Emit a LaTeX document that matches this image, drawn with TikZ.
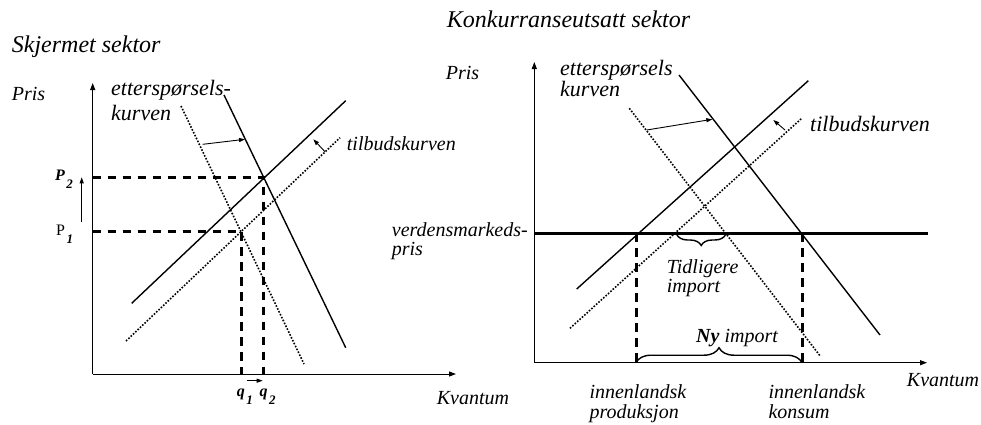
\documentclass[tikz,border=0pt]{standalone}
\usepackage{fontspec}
\setmainfont{Liberation Serif}[BoldFont={Liberation Serif Bold}, ItalicFont={Liberation Serif Italic}, BoldItalicFont={Liberation Serif Bold Italic}]
\usetikzlibrary{arrows.meta,decorations.pathreplacing}
\tikzset{
  lbl/.style={font=\fontsize{20}{20}\selectfont\itshape, inner sep=0pt, anchor=base west, align=left},
  biglbl/.style={lbl, font=\fontsize{22}{21}\selectfont\itshape},
  ttl/.style={lbl, font=\fontsize{24}{26}\selectfont\itshape},
  sym/.style={inner sep=0pt, anchor=base west, font=\fontsize{16}{16}\selectfont},
  axis/.style={line width=1pt, -{Triangle[length=7pt,width=5pt]}},
  curve/.style={line width=1.4pt},
  dotcurve/.style={line width=1.6pt, dash pattern=on 1.6pt off 1.6pt},
  dashln/.style={line width=3pt, dash pattern=on 8.5pt off 6.5pt},
  shiftarr/.style={line width=0.9pt, -{Triangle[length=6pt,width=4pt]}},
  brc/.style={line width=1.4pt, decorate, decoration={brace, amplitude=#1}},
}
\newcommand{\sbx}[1]{\kern1.5pt\raisebox{-8pt}{\fontsize{13}{13}\selectfont\bfseries\itshape #1}}
\begin{document}
\begin{tikzpicture}[x=1pt,y=-1pt]
  \useasboundingbox (0,0) rectangle (981,424);
  % Skjermet sektor
  \coordinate (oL) at (92.7,374);
  \coordinate (yL) at (92.7,83);
  \coordinate (xL) at (456,374);
  \coordinate (eL1) at (241.7,231);
  \coordinate (eL2) at (263.3,177.3);
  \draw[axis] (oL) -- (yL);
  \draw[axis] (oL) -- (xL);
  \draw[dotcurve] (181,106) -- (304,364);
  \draw[curve] (224,95) -- (345.7,347.7);
  \draw[dotcurve] (126,341) -- (340,137.7);
  \draw[curve] (131.7,303.3) -- (345.7,100.7);
  \foreach \e in {eL1,eL2}{%
    \draw[dashln] (\e -| oL) -- (\e) -- (\e |- oL);
  }
  \draw[shiftarr] (202.7,144.3) -- (245,139.3);
  \draw[shiftarr] (325,151.7) -- (313.3,139.3);
  \node[ttl] (titL) at (11.7,52.3) {Skjermet sektor};
  \node[lbl] (prisL) at (11.7,100) {Pris};
  \node[biglbl] (ettL) at (111,120) {etterspørsels-\\[4pt]kurven};
  \node[lbl] (tilbL) at (346.7,150.7) {tilbudskurven};
  \node[sym] (p2) at (55,180) {\bfseries\itshape P\sbx{2}};
  \node[sym] (p1) at (56,235) {P\sbx{1}};
  \coordinate (pu1) at (81.7,221.7);
  \coordinate (pu2) at (81.7,177.3);
  \draw[shiftarr] (pu1) -- (pu2);
  \node[sym] (q1) at (236.7,396.7) {\bfseries\itshape q\sbx{1}};
  \node[sym] (q2) at (259.3,396.7) {\bfseries\itshape q\sbx{2}};
  \draw[shiftarr] (246.7,380.7) -- (262.7,380.7);
  \node[lbl] (kvL) at (436.7,404) {Kvantum};
  % Konkurranseutsatt sektor
  \coordinate (oR) at (534.3,362.7);
  \coordinate (yR) at (534.3,62);
  \coordinate (xR) at (927,362.7);
  \coordinate (wR) at (927.7,233.3);
  \coordinate (prodR) at (636,233.3);
  \coordinate (konsR) at (802,233.3);
  \draw[axis] (oR) -- (yR);
  \draw[axis] (oR) -- (xR);
  \draw[dotcurve] (629.3,108.3) -- (820.7,356.7);
  \draw[curve] (679,75) -- (880,335);
  \draw[dotcurve] (570,328.3) -- (801.7,118.3);
  \draw[curve] (576.7,289) -- (808.3,80.7);
  \draw[line width=3pt] (oR |- wR) -- (wR);
  \foreach \e in {prodR,konsR}{%
    \draw[dashln] (\e) -- (\e |- oR);
  }
  \draw[brc=11pt] (725.7,234.5) -- (676.7,234.5);
  \draw[brc=15pt] (prodR |- oR) -- (konsR |- oR);
  \draw[shiftarr] (646.7,130) -- (712.3,119.3);
  \draw[shiftarr] (785,130) -- (773.3,120);
  \node[ttl] (titR) at (446.7,27.3) {Konkurranseutsatt sektor};
  \node[lbl] (prisR) at (445.7,79) {Pris};
  \node[biglbl] (ettR) at (560,96.7) {etterspørsels\\kurven};
  \node[biglbl] (tilbR) at (810,131.7) {tilbudskurven};
  \node[lbl] (verd) at (391.7,255.5) {verdensmarkeds-\\[-1pt]pris};
  \node[lbl] (tidl) at (666.7,292.7) {Tidligere\\[-1pt]import};
  \node[lbl] (nyimp) at (696,342.7) {\bfseries Ny\mdseries{} import};
  \node[lbl] (prod) at (589.3,418.3) {innenlandsk\\produksjon};
  \node[lbl] (kons) at (768.3,418.3) {innenlandsk\\konsum};
  \node[lbl] (kvR) at (906.7,386.7) {Kvantum};
\end{tikzpicture}
\end{document}
